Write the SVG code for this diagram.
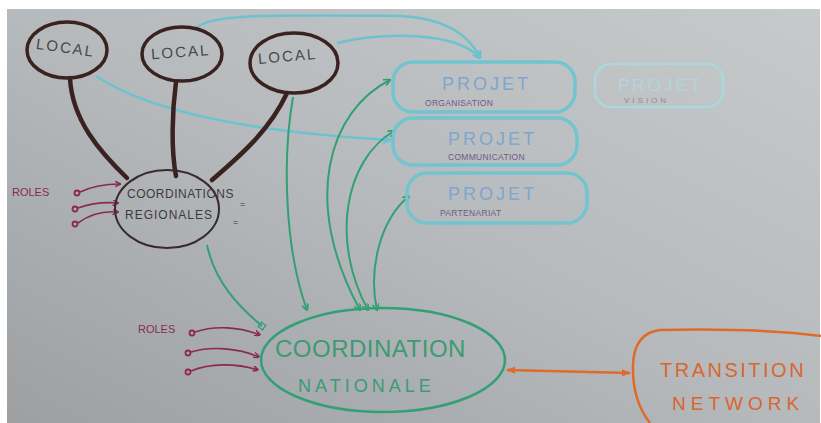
<svg xmlns="http://www.w3.org/2000/svg" width="821" height="423" viewBox="0 0 821 423">
<defs>
<linearGradient id="bg" x1="0" y1="1" x2="1" y2="0">
<stop offset="0" stop-color="#9d9fa1"/>
<stop offset="0.5" stop-color="#b6babc"/>
<stop offset="1" stop-color="#c6cacb"/>
</linearGradient>
<marker id="ag" viewBox="0 0 10 10" refX="9" refY="5" markerWidth="7" markerHeight="7" orient="auto-start-reverse" markerUnits="userSpaceOnUse">
<path d="M0 0 L10 5 L0 10" fill="none" stroke="#33a073" stroke-width="2.5"/>
</marker>
<marker id="ac" viewBox="0 0 10 10" refX="9" refY="5" markerWidth="8" markerHeight="8" orient="auto-start-reverse" markerUnits="userSpaceOnUse">
<path d="M0 0 L10 5 L0 10" fill="none" stroke="#6cc3cf" stroke-width="2.5"/>
</marker>
<marker id="ap" viewBox="0 0 10 10" refX="9" refY="5" markerWidth="6" markerHeight="6" orient="auto" markerUnits="userSpaceOnUse">
<path d="M0 0 L10 5 L0 10" fill="none" stroke="#8c2a4e" stroke-width="2.5"/>
</marker>
<marker id="ao" viewBox="0 0 10 10" refX="9" refY="5" markerWidth="9" markerHeight="9" orient="auto-start-reverse" markerUnits="userSpaceOnUse">
<path d="M0 1 L10 5 L0 9 Z" fill="#e06a2a"/>
</marker>
<marker id="sq" viewBox="0 0 10 10" refX="5" refY="5" markerWidth="7" markerHeight="7" orient="auto" markerUnits="userSpaceOnUse">
<rect x="1" y="1" width="8" height="8" fill="none" stroke="#33a073" stroke-width="2"/>
</marker>
</defs>
<style>
.hand{font-family:"Liberation Sans","DejaVu Sans",sans-serif;}
.local{fill:none;stroke:#3a2220;stroke-width:3.5;}
.localt{font-size:15px;fill:#4a4649;letter-spacing:2px;}
.brown{fill:none;stroke:#3a2220;stroke-width:4.5;stroke-linecap:round;}
.proj{fill:none;stroke:#72c4cf;stroke-width:3.5;}
.projt{font-size:18px;fill:#7fa6cc;letter-spacing:3px;}
.projs{font-size:8.5px;fill:#6e5a86;letter-spacing:0.3px;}
.green{fill:none;stroke:#33a073;stroke-width:2;}
.cyan{fill:none;stroke:#6cc3cf;stroke-width:2.5;}
.purple{fill:none;stroke:#8c2a4e;stroke-width:1.6;}
.dot{fill:none;stroke:#8c2a4e;stroke-width:1.8;}
.roles{font-size:11px;fill:#8c2a4e;}
</style>
<rect x="0" y="0" width="821" height="423" fill="#ffffff"/>
<rect x="7" y="9" width="813" height="414" fill="url(#bg)"/>

<g id="connectors">
<path class="cyan" d="M96 76 C150 112 250 132 390 140" marker-end="url(#ac)"/>
<path class="cyan" d="M196 28 C212 14 262 15 400 16 C440 18 468 32 480 58" marker-end="url(#ac)"/>
<path class="cyan" d="M337 43 C380 33 455 30 480 58" marker-end="url(#ac)"/>
<path class="brown" d="M70 78 C72 120 100 152 127 178"/>
<path class="brown" d="M176 82 C172 112 171 150 176 176"/>
<path class="brown" d="M287 93 C270 130 240 156 212 180"/>
<path class="green" d="M207 245 C215 282 238 306 262 326" marker-end="url(#sq)"/>
<path class="green" d="M293 97 C282 160 285 250 307 310" marker-end="url(#ag)"/>
<path class="green" d="M390 80 C330 110 300 200 360 310" marker-start="url(#ag)" marker-end="url(#ag)"/>
<path class="green" d="M394 131 C345 160 330 240 368 310" marker-start="url(#ag)" marker-end="url(#ag)"/>
<path class="green" d="M409 196 C380 220 368 270 377 310" marker-start="url(#ag)" marker-end="url(#ag)"/>
<path d="M507 370 L630 373" fill="none" stroke="#e06a2a" stroke-width="2.5" marker-start="url(#ao)" marker-end="url(#ao)"/>
<path class="purple" d="M80 192 C95 185 108 184 120 184" marker-end="url(#ap)"/>
<path class="purple" d="M78 208 C92 203 105 202 118 203" marker-end="url(#ap)"/>
<path class="purple" d="M78 223 C90 214 105 211 118 212" marker-end="url(#ap)"/>
<path class="purple" d="M195 332 C215 325 240 327 260 335" marker-end="url(#ap)"/>
<path class="purple" d="M191 352 C212 346 238 348 259 357" marker-end="url(#ap)"/>
<path class="purple" d="M191 371 C210 363 236 363 258 370" marker-end="url(#ap)"/>
</g>

<g id="local1">
<ellipse class="local" cx="67" cy="50" rx="40" ry="28"/>
<text class="hand localt" x="36" y="53" transform="rotate(8 67 48)">LOCAL</text>
</g>
<g id="local2">
<ellipse class="local" cx="182" cy="54" rx="40" ry="27"/>
<text class="hand localt" x="151" y="57" transform="rotate(-4 182 52)">LOCAL</text>
</g>
<g id="local3">
<ellipse class="local" cx="294" cy="63" rx="44" ry="30"/>
<text class="hand localt" x="258" y="61" transform="rotate(-5 292 56)">LOCAL</text>
</g>

<g id="coord-regionales">
<ellipse cx="167" cy="209" rx="52" ry="39" fill="none" stroke="#3a2a2c" stroke-width="2"/>
<text class="hand" x="127" y="198" font-size="12" fill="#3e3a3c" letter-spacing="0.5">COORDINATIONS</text>
<text class="hand" x="125" y="219" font-size="12" fill="#3e3a3c" letter-spacing="1">REGIONALES</text>
<text class="hand" x="240" y="207" font-size="9" fill="#3e3a3c">=</text>
<text class="hand" x="233" y="225" font-size="9" fill="#3e3a3c">=</text>
</g>

<g id="roles-regional">
<text class="hand roles" x="12" y="196">ROLES</text>
<circle class="dot" cx="77" cy="193" r="2.5"/>
<circle class="dot" cx="75" cy="209" r="2.5"/>
<circle class="dot" cx="75" cy="224" r="2.5"/>
</g>

<g id="projet-organisation">
<rect class="proj" x="393" y="62" width="182" height="50" rx="20"/>
<text class="hand projt" x="442" y="90">PROJET</text>
<text class="hand projs" x="425" y="106">ORGANISATION</text>
</g>
<g id="projet-communication">
<rect class="proj" x="393" y="118" width="184" height="47" rx="20"/>
<text class="hand projt" x="448" y="145">PROJET</text>
<text class="hand projs" x="448" y="160">COMMUNICATION</text>
</g>
<g id="projet-partenariat">
<rect class="proj" x="407" y="173" width="180" height="50" rx="20"/>
<text class="hand projt" x="448" y="200">PROJET</text>
<text class="hand projs" x="440" y="216">PARTENARIAT</text>
</g>
<g id="projet-vision">
<rect x="595" y="64" width="128" height="43" rx="16" fill="none" stroke="#a9d8dd" stroke-width="2.5"/>
<text class="hand" x="618" y="91" font-size="17" fill="#b4d4dc" letter-spacing="3">PROJET</text>
<text class="hand" x="624" y="103" font-size="8" fill="#8a8c9a" letter-spacing="3">VISION</text>
</g>

<g id="coord-nationale">
<ellipse cx="383" cy="360" rx="122" ry="52" fill="none" stroke="#33a073" stroke-width="2.5"/>
<text class="hand" x="275" y="357" font-size="24" fill="#3d9a72" letter-spacing="0.5">COORDINATION</text>
<text class="hand" x="298" y="392" font-size="18" fill="#3d9a72" letter-spacing="4">NATIONALE</text>
</g>

<g id="roles-national">
<text class="hand roles" x="138" y="333">ROLES</text>
<circle class="dot" cx="192" cy="333" r="2.5"/>
<circle class="dot" cx="188" cy="353" r="2.5"/>
<circle class="dot" cx="188" cy="372" r="2.5"/>
</g>

<g id="transition-network">
<path d="M821 336 Q760 328 660 330 Q634 333 633 365 Q632 400 650 423" fill="none" stroke="#e06a2a" stroke-width="2.5"/>
<text class="hand" x="660" y="377" font-size="20" fill="#d9662e" letter-spacing="2.5">TRANSITION</text>
<text class="hand" x="672" y="410" font-size="19" fill="#d9662e" letter-spacing="5">NETWORK</text>
</g>
</svg>
